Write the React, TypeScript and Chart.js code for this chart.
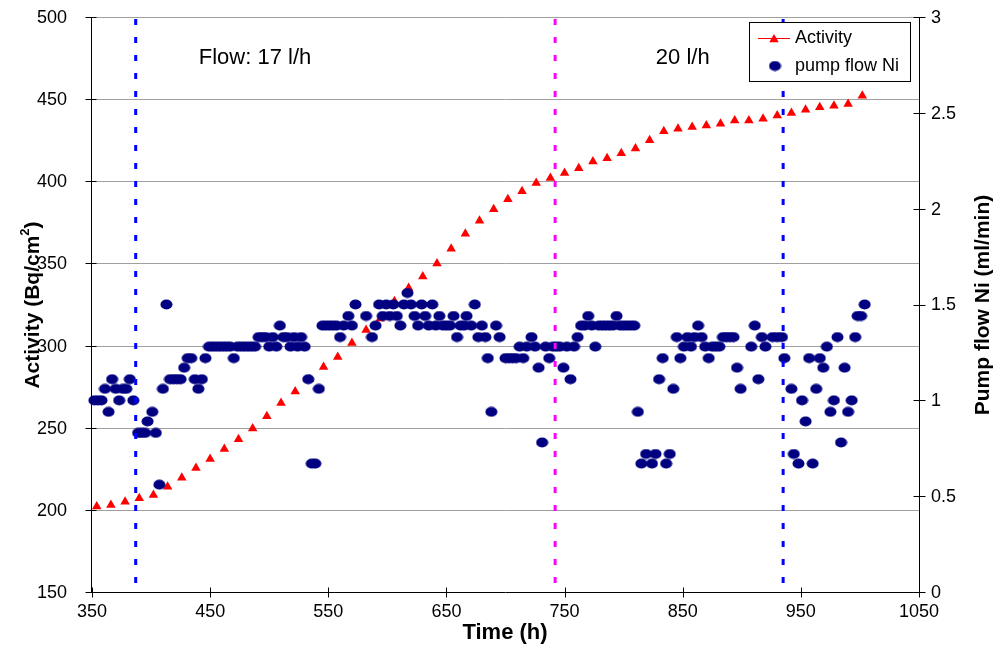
import { useEffect, useRef } from 'react';
import { Chart, registerables } from 'chart.js';

Chart.register(...registerables);

// Activity measurements (Bq/cm²) against time (h)
const activityTime = [
  354, 366, 378, 390, 402, 414, 426, 438, 450, 462,
  474, 486, 498, 510, 522, 534, 546, 558, 570, 582,
  594, 606, 618, 630, 642, 654, 666, 678, 690, 702,
  714, 726, 738, 750, 762, 774, 786, 798, 810, 822,
  834, 846, 858, 870, 882, 894, 906, 918, 930, 942,
  954, 966, 978, 990, 1002,
];
const activityValues = [
  202, 203, 205, 207, 209, 214, 219.5, 225.5, 231, 237,
  243, 249.5, 257, 265, 272, 279.5, 287, 293, 301.5, 309.5,
  316.5, 327, 335, 342, 350, 359, 368, 376, 383, 389,
  394, 399, 402, 405, 408, 412, 414, 417, 420, 425,
  430.5, 432, 433, 434, 435, 437, 437, 438, 440, 441.5,
  443.5, 445, 446, 447, 452,
];

// Nickel pump flow (ml/min) against time (h)
const flowTime = [
  352, 355, 358, 361, 364, 367, 370, 373, 376, 379,
  382, 385, 389, 392, 395, 397, 401, 404, 407, 410,
  413, 416, 419, 422, 425, 428, 431, 434, 437, 440,
  443, 446, 449, 452, 455, 458, 461, 464, 467, 470,
  473, 476, 479, 482, 485, 488, 491, 494, 497, 500,
  503, 506, 509, 512, 515, 518, 521, 524, 527, 530,
  533, 536, 539, 542, 545, 548, 551, 554, 557, 560,
  563, 567, 570, 573, 582, 587, 590, 593, 596, 599,
  602, 605, 608, 611, 614, 617, 620, 623, 626, 629,
  632, 635, 638, 641, 644, 647, 650, 653, 656, 659,
  662, 665, 667, 671, 674, 677, 680, 683, 685, 688,
  692, 695, 700, 703, 706, 709, 712, 715, 718, 722,
  725, 728, 731, 734, 737, 740, 743, 746, 749, 752,
  755, 758, 761, 764, 767, 770, 773, 776, 779, 782,
  785, 788, 791, 794, 797, 800, 803, 806, 809, 812,
  815, 819, 824, 827, 830, 833, 836, 839, 842, 845,
  848, 851, 854, 857, 860, 863, 866, 869, 872, 875,
  878, 881, 884, 887, 890, 893, 896, 899, 908, 911,
  914, 917, 920, 926, 930, 934, 936, 942, 944, 948,
  951, 954, 957, 960, 963, 966, 969, 972, 975, 978,
  981, 984, 987, 990, 993, 996, 998, 1001, 1004,
];
const flowValues = [
  1.00, 1.00, 1.00, 1.06, 0.94, 1.11, 1.06, 1.00, 1.06, 1.06,
  1.11, 1.00, 0.83, 0.83, 0.83, 0.89, 0.94, 0.83, 0.56, 1.06,
  1.50, 1.11, 1.11, 1.11, 1.11, 1.17, 1.22, 1.22, 1.11, 1.06,
  1.11, 1.22, 1.28, 1.28, 1.28, 1.28, 1.28, 1.28, 1.28, 1.22,
  1.28, 1.28, 1.28, 1.28, 1.28, 1.28, 1.33, 1.33, 1.33, 1.28,
  1.33, 1.28, 1.39, 1.33, 1.33, 1.28, 1.33, 1.28, 1.33, 1.28,
  1.11, 0.67, 0.67, 1.06, 1.39, 1.39, 1.39, 1.39, 1.39, 1.33,
  1.39, 1.44, 1.39, 1.50, 1.44, 1.33, 1.39, 1.50, 1.44, 1.50,
  1.44, 1.50, 1.44, 1.39, 1.50, 1.56, 1.50, 1.44, 1.39, 1.50,
  1.44, 1.39, 1.50, 1.39, 1.44, 1.39, 1.39, 1.39, 1.44, 1.33,
  1.39, 1.39, 1.44, 1.39, 1.50, 1.33, 1.39, 1.33, 1.22, 0.94,
  1.39, 1.33, 1.22, 1.22, 1.22, 1.22, 1.28, 1.22, 1.28, 1.33,
  1.28, 1.17, 0.78, 1.28, 1.22, 1.28, 1.28, 1.28, 1.17, 1.28,
  1.11, 1.28, 1.33, 1.39, 1.39, 1.44, 1.39, 1.28, 1.39, 1.39,
  1.39, 1.39, 1.39, 1.44, 1.39, 1.39, 1.39, 1.39, 1.39, 0.94,
  0.67, 0.72, 0.67, 0.72, 1.11, 1.22, 0.67, 0.72, 1.06, 1.33,
  1.22, 1.28, 1.33, 1.28, 1.33, 1.39, 1.33, 1.28, 1.22, 1.28,
  1.28, 1.28, 1.33, 1.33, 1.33, 1.33, 1.17, 1.06, 1.28, 1.39,
  1.11, 1.33, 1.28, 1.33, 1.33, 1.33, 1.22, 1.06, 0.72, 0.67,
  1.00, 0.89, 1.22, 0.67, 1.06, 1.22, 1.17, 1.28, 0.94, 1.00,
  1.33, 0.78, 1.17, 0.94, 1.00, 1.33, 1.44, 1.44, 1.50,
];

const timeTicks = [350, 450, 550, 650, 750, 850, 950, 1050];
const activityTicks = [150, 200, 250, 300, 350, 400, 450, 500];
const flowTicks = [0, 0.5, 1, 1.5, 2, 2.5, 3];

// Times at which the flow regime changed, with their marker colours
const changeTimes = [387, 742, 935];
const changeColors = ['#0000ff', '#ff00ff', '#0000ff'];

// Flow-rate period labels, placed in data coordinates
const periodLabels = ['Flow: 17 l/h', '20 l/h'];
const periodLabelTimes = [488, 850];
const periodLabelLevel = 475;

const FONT = '"Liberation Sans", Arial, sans-serif';
const NAVY = '#000080';
const RED = '#ff0000';

function makeDot(): HTMLCanvasElement {
  const c = document.createElement('canvas');
  c.width = 13;
  c.height = 11;
  const g = c.getContext('2d')!;
  g.fillStyle = NAVY;
  g.beginPath();
  g.ellipse(6.5, 5.5, 6, 5, 0, 0, Math.PI * 2);
  g.fill();
  return c;
}

function drawTriangle(ctx: CanvasRenderingContext2D, x: number, y: number, r: number) {
  ctx.beginPath();
  for (let k = 0; k < 3; k++) {
    const a = (k * 2 * Math.PI) / 3;
    const px = x + Math.sin(a) * r;
    const py = y - Math.cos(a) * r;
    if (k === 0) ctx.moveTo(px, py);
    else ctx.lineTo(px, py);
  }
  ctx.closePath();
  ctx.fill();
}

const decor = {
  id: 'decor',
  beforeDatasetsDraw(chart: any) {
    const { ctx, chartArea } = chart;
    const ys = chart.scales.y;
    ctx.save();
    ctx.strokeStyle = '#a0a0a0';
    ctx.lineWidth = 1;
    for (const v of activityTicks) {
      if (v <= 150) continue;
      const py = Math.round(ys.getPixelForValue(v)) + 0.5;
      ctx.beginPath();
      ctx.moveTo(chartArea.left, py);
      ctx.lineTo(chartArea.right, py);
      ctx.stroke();
    }
    ctx.restore();
  },
  afterDatasetsDraw(chart: any, _args: any, opts: any) {
    const { ctx, chartArea } = chart;
    const { left, right, top, bottom } = chartArea;
    const xs = chart.scales.x;
    const ys = chart.scales.y;
    const y1 = chart.scales.y1;
    const dot: HTMLCanvasElement = opts.dot;

    ctx.save();

    // dashed lines marking the flow changes
    ctx.lineWidth = 3;
    ctx.setLineDash([6, 12]);
    changeTimes.forEach((t, i) => {
      const px = xs.getPixelForValue(t);
      ctx.strokeStyle = changeColors[i];
      ctx.beginPath();
      ctx.moveTo(px, top + 2);
      ctx.lineTo(px, bottom);
      ctx.stroke();
    });
    ctx.setLineDash([]);

    // axis lines and crossing tick marks
    ctx.strokeStyle = '#000';
    ctx.lineWidth = 1;
    const lx = left - 0.5;
    const rx = right + 0.5;
    const by = bottom + 0.5;
    ctx.beginPath();
    ctx.moveTo(lx, top);
    ctx.lineTo(lx, bottom + 1);
    ctx.moveTo(rx, top);
    ctx.lineTo(rx, bottom + 1);
    ctx.moveTo(left, by);
    ctx.lineTo(right, by);
    for (const v of activityTicks) {
      const py = Math.round(ys.getPixelForValue(v)) + 0.5;
      ctx.moveTo(lx - 6, py);
      ctx.lineTo(lx + 5, py);
    }
    for (const v of flowTicks) {
      const py = Math.round(y1.getPixelForValue(v)) + 0.5;
      ctx.moveTo(rx - 6, py);
      ctx.lineTo(rx + 6, py);
    }
    for (const v of timeTicks) {
      const px = Math.round(xs.getPixelForValue(v)) + 0.5;
      ctx.moveTo(px, by - 5);
      ctx.lineTo(px, by + 5);
    }
    ctx.stroke();

    // tick labels
    ctx.fillStyle = '#000';
    ctx.font = `18px ${FONT}`;
    ctx.textBaseline = 'middle';
    ctx.textAlign = 'right';
    for (const v of activityTicks) {
      ctx.fillText(String(v), 67, ys.getPixelForValue(v) + 1);
    }
    ctx.textAlign = 'left';
    for (const v of flowTicks) {
      ctx.fillText(String(v), 931, y1.getPixelForValue(v) + 1);
    }
    ctx.textAlign = 'center';
    for (const v of timeTicks) {
      ctx.fillText(String(v), xs.getPixelForValue(v), 612);
    }

    // axis titles
    ctx.font = `bold 22px ${FONT}`;
    ctx.fillText('Time (h)', 505, 633);

    ctx.save();
    ctx.translate(33, 305);
    ctx.rotate(-Math.PI / 2);
    const mainA = 'Activity (Bq/cm';
    const supA = '2';
    const endA = ')';
    ctx.font = `bold 21px ${FONT}`;
    const wMain = ctx.measureText(mainA).width;
    const wEnd = ctx.measureText(endA).width;
    ctx.font = `bold 13px ${FONT}`;
    const wSup = ctx.measureText(supA).width;
    let cx = -(wMain + wSup + wEnd) / 2;
    ctx.textAlign = 'left';
    ctx.font = `bold 21px ${FONT}`;
    ctx.fillText(mainA, cx, 0);
    cx += wMain;
    ctx.font = `bold 13px ${FONT}`;
    ctx.fillText(supA, cx, -8);
    cx += wSup;
    ctx.font = `bold 21px ${FONT}`;
    ctx.fillText(endA, cx, 0);
    ctx.restore();

    ctx.save();
    ctx.translate(983, 305);
    ctx.rotate(-Math.PI / 2);
    ctx.textAlign = 'center';
    ctx.font = `bold 21px ${FONT}`;
    ctx.fillText('Pump flow Ni (ml/min)', 0, 0);
    ctx.restore();

    // flow period labels
    ctx.font = `22px ${FONT}`;
    ctx.textAlign = 'center';
    periodLabels.forEach((label, i) => {
      ctx.fillText(label, xs.getPixelForValue(periodLabelTimes[i]), ys.getPixelForValue(periodLabelLevel));
    });

    // legend
    ctx.fillStyle = '#fff';
    ctx.fillRect(749, 22, 162, 60);
    ctx.strokeStyle = '#000';
    ctx.lineWidth = 1;
    ctx.strokeRect(749.5, 22.5, 161, 59);
    ctx.strokeStyle = RED;
    ctx.beginPath();
    ctx.moveTo(758, 38.5);
    ctx.lineTo(790, 38.5);
    ctx.stroke();
    ctx.fillStyle = RED;
    drawTriangle(ctx, 774, 39.5, 5.5);
    ctx.drawImage(dot, 775 - dot.width / 2, 66 - dot.height / 2);
    ctx.fillStyle = '#000';
    ctx.font = `18px ${FONT}`;
    ctx.textAlign = 'left';
    ctx.fillText('Activity', 795, 38);
    ctx.fillText('pump flow Ni', 795, 66);

    ctx.restore();
  },
};

export default function App() {
  const ref = useRef<HTMLCanvasElement>(null);

  useEffect(() => {
    document.body.style.margin = '0';
    const dot = makeDot();
    const chart = new Chart(ref.current!, {
      type: 'scatter',
      data: {
        datasets: [
          {
            label: 'pump flow Ni',
            data: flowTime.map((t, i) => ({ x: t, y: flowValues[i] })),
            yAxisID: 'y1',
            pointStyle: dot,
            pointRadius: 6,
            showLine: false,
            clip: false,
          },
          {
            label: 'Activity',
            data: activityTime.map((t, i) => ({ x: t, y: activityValues[i] })),
            yAxisID: 'y',
            pointStyle: 'triangle',
            pointRadius: 5.5,
            pointBackgroundColor: RED,
            pointBorderColor: RED,
            pointBorderWidth: 0,
            showLine: false,
            clip: false,
          },
        ],
      },
      options: {
        responsive: false,
        animation: false,
        events: [],
        layout: { padding: { top: 17, left: 0, right: 0, bottom: 0 } },
        plugins: {
          legend: { display: false },
          tooltip: { enabled: false },
          decor: { dot },
        } as any,
        scales: {
          x: {
            type: 'linear',
            min: 350,
            max: 1050,
            ticks: { display: false },
            grid: { display: false },
            border: { display: false },
            afterFit: (s: any) => {
              s.height = 56;
            },
          },
          y: {
            type: 'linear',
            position: 'left',
            min: 150,
            max: 500,
            ticks: { display: false },
            grid: { display: false },
            border: { display: false },
            afterFit: (s: any) => {
              s.width = 92;
            },
          },
          y1: {
            type: 'linear',
            position: 'right',
            min: 0,
            max: 3,
            ticks: { display: false },
            grid: { display: false },
            border: { display: false },
            afterFit: (s: any) => {
              s.width = 83;
            },
          },
        },
      },
      plugins: [decor],
    });
    return () => chart.destroy();
  }, []);

  return (
    <div style={{ width: 1002, height: 648 }}>
      <canvas ref={ref} width={1002} height={648} style={{ display: 'block' }} />
    </div>
  );
}
